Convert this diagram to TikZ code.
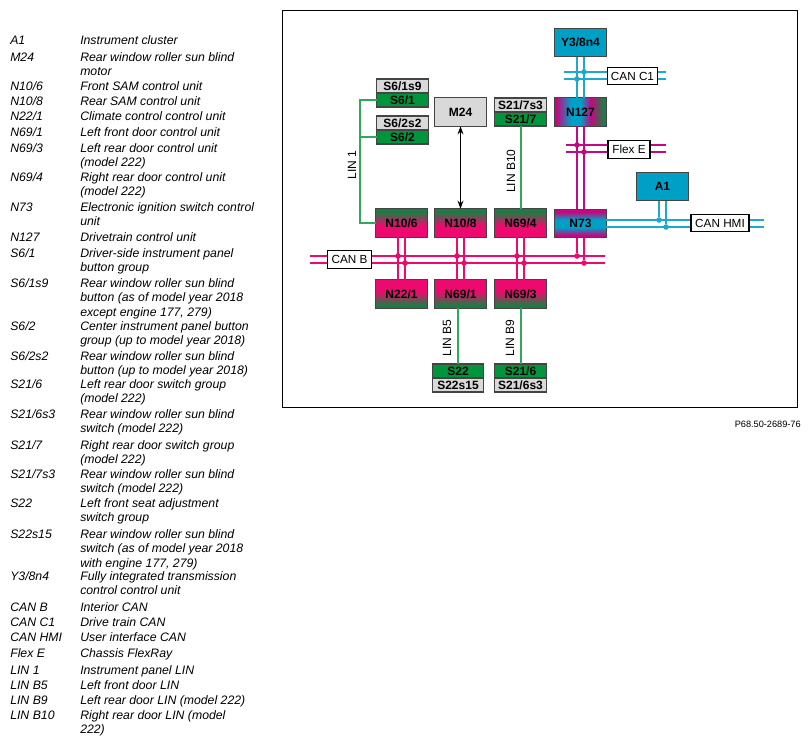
\documentclass[tikz,border=0pt]{standalone}
\usepackage{fontspec}
\setmainfont{Liberation Sans}
\usepackage{tikz}
\usetikzlibrary{arrows.meta,positioning}
\definecolor{canpink}{HTML}{EC0A6E}
\definecolor{flexmag}{HTML}{C4087F}
\definecolor{cancyan}{HTML}{1CA9CC}
\definecolor{boxcyan}{HTML}{009FC6}
\definecolor{lingreen}{HTML}{2FA85C}
\definecolor{boxgreen}{HTML}{00943C}
\definecolor{darkgreen}{HTML}{1F7A45}
\definecolor{boxgrey}{HTML}{D9D9D9}
\definecolor{edgegrey}{HTML}{444444}
\pgfdeclareverticalshading{greenpink}{100bp}{color(0bp)=(canpink); color(25bp)=(canpink); color(46bp)=(canpink); color(69bp)=(darkgreen); color(100bp)=(darkgreen)}
\pgfdeclareverticalshading{pinkgreen}{100bp}{color(0bp)=(darkgreen); color(31bp)=(darkgreen); color(54bp)=(canpink); color(75bp)=(canpink); color(100bp)=(canpink)}
\pgfdeclareverticalshading{magblue}{100bp}{color(0bp)=(flexmag); color(30bp)=(flexmag); color(43bp)=(boxcyan); color(57bp)=(boxcyan); color(70bp)=(flexmag); color(100bp)=(flexmag)}
\pgfdeclarehorizontalshading{mixbar}{100bp}{color(0bp)=(flexmag); color(27bp)=(flexmag); color(40bp)=(boxcyan); color(50bp)=(boxcyan); color(60bp)=(flexmag); color(72bp)=(darkgreen); color(100bp)=(darkgreen)}
\begin{document}
\begin{tikzpicture}[
    x=0.75pt, y=-0.75pt,
    ecu/.style={draw=edgegrey, line width=0.9pt, font=\fontsize{9}{10}\selectfont\bfseries,
                minimum width=38.5pt, minimum height=21.5pt, inner sep=0pt, outer sep=0pt},
    ecudn/.style={ecu, shading=greenpink},
    ecuup/.style={ecu, shading=pinkgreen},
    ecublue/.style={ecu, fill=boxcyan},
    ecugrey/.style={ecu, fill=boxgrey},
    swgrey/.style={ecu, fill=boxgrey, minimum height=10.5pt},
    swgreen/.style={ecu, fill=boxgreen, minimum height=10.5pt},
    busname/.style={draw=black, line width=0.9pt, fill=white, font=\fontsize{8.8}{10}\selectfont,
                    inner sep=0pt, outer sep=0pt, minimum height=13pt},
    linname/.style={font=\fontsize{9}{10}\selectfont, rotate=90, inner sep=0pt},
    pinkbus/.style={draw=canpink, line width=1.4pt},
    magbus/.style={draw=flexmag, line width=1.4pt},
    cyanbus/.style={draw=cancyan, line width=1.4pt},
    linbus/.style={draw=lingreen, line width=1.4pt},
    pinkdot/.style={circle, fill=canpink, inner sep=0pt, minimum size=4.2pt},
    magdot/.style={circle, fill=flexmag, inner sep=0pt, minimum size=4.2pt},
    cyandot/.style={circle, fill=cancyan, inner sep=0pt, minimum size=4.2pt},
    keyitem/.style={font=\fontsize{9.2}{11}\selectfont\itshape, anchor=north west, inner sep=0pt, text height=6.7pt},
    txtitem/.style={font=\fontsize{9.2}{11.1}\selectfont\itshape, anchor=north west, align=left, inner sep=0pt}
  ]
    \useasboundingbox (0,0) rectangle (811,744);
    \node[draw=black, line width=0.6pt, minimum width=386.25pt, minimum height=297.75pt, inner sep=0pt] (frame) at (539.5,208.5) {};

    \coordinate (canbl1) at (310,256);
    \coordinate (canbr1) at (605,256);
    \coordinate (canbl2) at (310,263);
    \coordinate (canbr2) at (605,263);
    \coordinate (cancl1) at (564,72);
    \coordinate (cancr1) at (666,72);
    \coordinate (cancl2) at (564,79);
    \coordinate (cancr2) at (666,79);
    \coordinate (flexl1) at (566,145);
    \coordinate (flexr1) at (666,145);
    \coordinate (flexl2) at (566,152);
    \coordinate (flexr2) at (666,152);
    \coordinate (hmir1) at (764,220);
    \coordinate (hmir2) at (764,227);
    \coordinate (linc) at (360,223);

    \draw[pinkbus] (canbl1) -- (canbr1);
    \draw[pinkbus] (canbl2) -- (canbr2);
    \draw[cyanbus] (cancl1) -- (cancr1);
    \draw[cyanbus] (cancl2) -- (cancr2);
    \draw[magbus] (flexl1) -- (flexr1);
    \draw[magbus] (flexl2) -- (flexr2);

    \node[ecublue] (y38n4) at (580.5,42.5) {Y3/8n4};
    \node[ecu, shading=mixbar] (n127) at (580.5,112) {N127};
    \node[ecu, shading=magblue] (n73) at (580.5,223.5) {N73};
    \node[ecublue] (a1) at (662.5,186.5) {A1};
    \node[ecugrey] (m24) at (460.5,112) {M24};
    \node[ecudn] (n106) at (401.5,223) {N10/6};
    \node[ecudn] (n108) at (460.5,223) {N10/8};
    \node[ecudn] (n694) at (520.5,223) {N69/4};
    \node[ecuup] (n221) at (401.5,294) {N22/1};
    \node[ecuup] (n691) at (460.5,294) {N69/1};
    \node[ecuup] (n693) at (520.5,294) {N69/3};

    \node[swgrey] (s61s9) at (402.5,86) {S6/1s9};
    \node[swgreen, below=0pt of s61s9] (s61) {S6/1};
    \node[swgrey] (s62s2) at (402.5,123) {S6/2s2};
    \node[swgreen, below=0pt of s62s2] (s62) {S6/2};
    \node[swgrey] (s217s3) at (520.5,105) {S21/7s3};
    \node[swgreen, below=0pt of s217s3] (s217) {S21/7};
    \node[swgreen] (s22) at (458,371) {S22};
    \node[swgrey, below=0pt of s22] (s22s15) {S22s15};
    \node[swgreen] (s216) at (520.5,371) {S21/6};
    \node[swgrey, below=0pt of s216] (s216s3) {S21/6s3};

    \draw[cyanbus] ([xshift=-2.625pt]y38n4.south) -- ([xshift=-2.625pt]n127.north);
    \draw[cyanbus] ([xshift=2.625pt]y38n4.south) -- ([xshift=2.625pt]n127.north);
    \draw[magbus] ([xshift=-2.625pt]n127.south) -- ([xshift=-2.625pt]n73.north);
    \draw[magbus] ([xshift=2.625pt]n127.south) -- ([xshift=2.625pt]n73.north);
    \draw[pinkbus] ([xshift=-2.625pt]n106.south) -- ([xshift=-2.625pt]n221.north);
    \draw[pinkbus] ([xshift=2.625pt]n106.south) -- ([xshift=2.625pt]n221.north);
    \draw[pinkbus] ([xshift=-2.625pt]n108.south) -- ([xshift=-2.625pt]n691.north);
    \draw[pinkbus] ([xshift=2.625pt]n108.south) -- ([xshift=2.625pt]n691.north);
    \draw[pinkbus] ([xshift=-2.625pt]n694.south) -- ([xshift=-2.625pt]n693.north);
    \draw[pinkbus] ([xshift=2.625pt]n694.south) -- ([xshift=2.625pt]n693.north);
    \draw[cyanbus] ([yshift=2.625pt]n73.east) -- (hmir1);
    \draw[cyanbus] ([yshift=-2.625pt]n73.east) -- (hmir2);
    \draw[linbus] (s61.west) -| (linc) -- (n106.west);
    \draw[linbus] (s62.west) -- (s62.west -| linc);
    \draw[linbus] ([xshift=0.375pt]s217.south) -- ([xshift=0.375pt]n694.north);
    \draw[linbus] (n691.south -| s22.north) -- (s22.north);
    \draw[linbus] ([xshift=0.375pt]n693.south) -- ([xshift=0.375pt]s216.north);
    \draw[{Stealth[length=6pt,width=4.5pt]}-{Stealth[length=6pt,width=4.5pt]}, black, line width=1pt] (m24.south) -- (n108.north);

    \node[busname, minimum width=32.5pt] (canb) at (349.5,259.5) {CAN B};
    \node[busname, minimum width=37pt] (canc1) at (632.5,76) {CAN C1};
    \node[busname, minimum width=31.5pt] (flexe) at (629,149.5) {Flex E};
    \node[busname, minimum width=43.5pt] (canhmi) at (720,223) {CAN HMI};

    \node[pinkdot] (db1) at (398,256) {};
    \node[pinkdot] (db2) at (405,263) {};
    \node[pinkdot] (db3) at (457,256) {};
    \node[pinkdot] (db4) at (464,263) {};
    \node[pinkdot] (db5) at (517,256) {};
    \node[pinkdot] (db6) at (524,263) {};
    \node[pinkdot] (db7) at (577,256) {};
    \node[pinkdot] (db8) at (584,263) {};
    \node[cyandot] (dc1) at (584,72) {};
    \node[cyandot] (dc2) at (577,79) {};
    \node[magdot] (df1) at (577,145) {};
    \node[magdot] (df2) at (584,152) {};
    \node[cyandot] (dh1) at (659,220) {};
    \node[cyandot] (dh2) at (666,227) {};

    \draw[pinkbus] ([xshift=-2.625pt]n73.south) -- (db7);
    \draw[pinkbus] ([xshift=2.625pt]n73.south) -- (db8);
    \draw[cyanbus] ([xshift=-2.625pt]a1.south) -- (dh1);
    \draw[cyanbus] ([xshift=2.625pt]a1.south) -- (dh2);

    \node[linname] (lin1) at (352,165) {LIN 1};
    \node[linname] (linb10) at (511,171) {LIN B10};
    \node[linname] (linb5) at (447,338) {LIN B5};
    \node[linname] (linb9) at (510,338) {LIN B9};

    \node[font=\fontsize{6.9}{8}\selectfont, anchor=east, inner sep=0pt] (figref) at (801,424) {P68.50-2689-76};

    \node[keyitem] (k01) at (10,35) {A1};
    \node[txtitem] (t01) at (80,35) {Instrument cluster};
    \node[keyitem] (k02) at (10,52) {M24};
    \node[txtitem] (t02) at (80,52) {Rear window roller sun blind\\motor};
    \node[keyitem] (k03) at (10,81) {N10/6};
    \node[txtitem] (t03) at (80,81) {Front SAM control unit};
    \node[keyitem] (k04) at (10,96) {N10/8};
    \node[txtitem] (t04) at (80,96) {Rear SAM control unit};
    \node[keyitem] (k05) at (10,111) {N22/1};
    \node[txtitem] (t05) at (80,111) {Climate control control unit};
    \node[keyitem] (k06) at (10,127) {N69/1};
    \node[txtitem] (t06) at (80,127) {Left front door control unit};
    \node[keyitem] (k07) at (10,143) {N69/3};
    \node[txtitem] (t07) at (80,143) {Left rear door control unit\\(model 222)};
    \node[keyitem] (k08) at (10,172) {N69/4};
    \node[txtitem] (t08) at (80,172) {Right rear door control unit\\(model 222)};
    \node[keyitem] (k09) at (10,202) {N73};
    \node[txtitem] (t09) at (80,202) {Electronic ignition switch control\\unit};
    \node[keyitem] (k10) at (10,232) {N127};
    \node[txtitem] (t10) at (80,232) {Drivetrain control unit};
    \node[keyitem] (k11) at (10,248) {S6/1};
    \node[txtitem] (t11) at (80,248) {Driver-side instrument panel\\button group};
    \node[keyitem] (k12) at (10,278) {S6/1s9};
    \node[txtitem] (t12) at (80,278) {Rear window roller sun blind\\button (as of model year 2018\\except engine 177, 279)};
    \node[keyitem] (k13) at (10,321) {S6/2};
    \node[txtitem] (t13) at (80,321) {Center instrument panel button\\group (up to model year 2018)};
    \node[keyitem] (k14) at (10,351) {S6/2s2};
    \node[txtitem] (t14) at (80,351) {Rear window roller sun blind\\button (up to model year 2018)};
    \node[keyitem] (k15) at (10,379) {S21/6};
    \node[txtitem] (t15) at (80,379) {Left rear door switch group\\(model 222)};
    \node[keyitem] (k16) at (10,409) {S21/6s3};
    \node[txtitem] (t16) at (80,409) {Rear window roller sun blind\\switch (model 222)};
    \node[keyitem] (k17) at (10,440) {S21/7};
    \node[txtitem] (t17) at (80,440) {Right rear door switch group\\(model 222)};
    \node[keyitem] (k18) at (10,469) {S21/7s3};
    \node[txtitem] (t18) at (80,469) {Rear window roller sun blind\\switch (model 222)};
    \node[keyitem] (k19) at (10,498) {S22};
    \node[txtitem] (t19) at (80,498) {Left front seat adjustment\\switch group};
    \node[keyitem] (k20) at (10,529) {S22s15};
    \node[txtitem] (t20) at (80,529) {Rear window roller sun blind\\switch (as of model year 2018\\with engine 177, 279)};
    \node[keyitem] (k21) at (10,571) {Y3/8n4};
    \node[txtitem] (t21) at (80,571) {Fully integrated transmission\\control control unit};
    \node[keyitem] (k22) at (10,602) {CAN B};
    \node[txtitem] (t22) at (80,602) {Interior CAN};
    \node[keyitem] (k23) at (10,617) {CAN C1};
    \node[txtitem] (t23) at (80,617) {Drive train CAN};
    \node[keyitem] (k24) at (10,632) {CAN HMI};
    \node[txtitem] (t24) at (80,632) {User interface CAN};
    \node[keyitem] (k25) at (10,648) {Flex E};
    \node[txtitem] (t25) at (80,648) {Chassis FlexRay};
    \node[keyitem] (k26) at (10,665) {LIN 1};
    \node[txtitem] (t26) at (80,665) {Instrument panel LIN};
    \node[keyitem] (k27) at (10,680) {LIN B5};
    \node[txtitem] (t27) at (80,680) {Left front door LIN};
    \node[keyitem] (k28) at (10,695) {LIN B9};
    \node[txtitem] (t28) at (80,695) {Left rear door LIN (model 222)};
    \node[keyitem] (k29) at (10,710) {LIN B10};
    \node[txtitem] (t29) at (80,710) {Right rear door LIN (model\\222)};
  \end{tikzpicture}
\end{document}
